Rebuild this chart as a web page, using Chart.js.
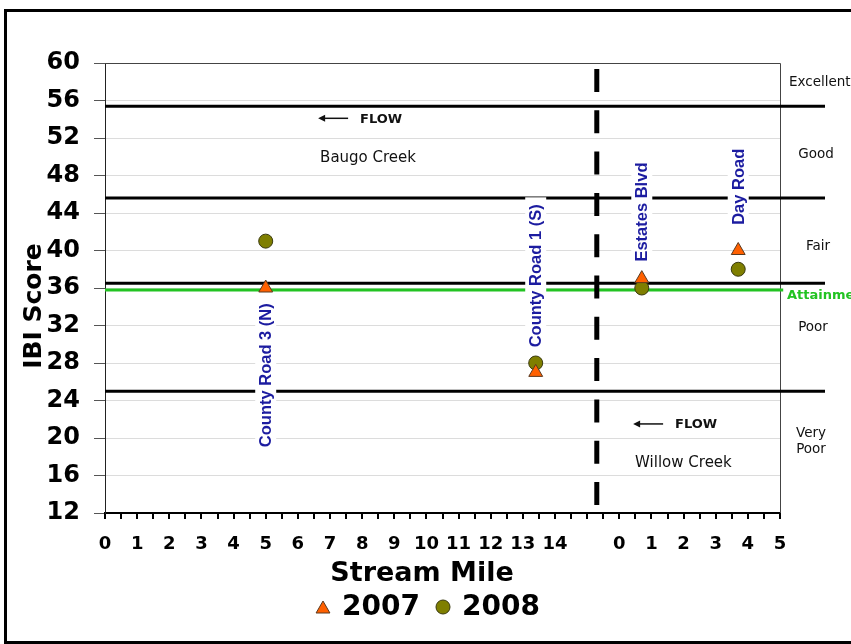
<!DOCTYPE html>
<html lang="en">
<head>
<meta charset="UTF-8" />
<title>IBI Score by Stream Mile</title>
<script src="https://cdn.jsdelivr.net/npm/chart.js"></script>
<style>
  html, body { margin: 0; padding: 0; background: #fff; }
  canvas { display: block; }
</style>
</head>
<body>
<canvas id="ibiChart" width="851" height="644"></canvas>
<script>
// sampling sites, mile is measured along each creek
const sites = ["County Road 3 (N)", "County Road 1 (S)", "Estates Blvd", "Day Road"];
const siteCreek = ["Baugo", "Baugo", "Willow", "Willow"];
const siteMile = [5.0, 13.4, 0.7, 3.7];
const ibi2007 = [36, 27, 37, 40];
const ibi2008 = [41, 28, 36, 38];

// IBI classes (boundaries between them) and the attainment score
const classNames = ["Excellent", "Good", "Fair", "Poor", "Very Poor"];
const classBreaks = [55.4, 45.6, 36.5, 25.0];
const attainment = 35.8;

// x axis: Baugo Creek miles, then Willow Creek miles after the divider
const baugoTicks = [0, 1, 2, 3, 4, 5, 6, 7, 8, 9, 10, 11, 12, 13, 14];
const willowTicks = [0, 1, 2, 3, 4, 5];
const willowStart = 16;   // Willow mile 0 on the shared axis
const dividerAt = 15.3;
const yTicksMin = 12, yTicksMax = 60, yStep = 4;

// where the rotated site names sit (IBI units)
const siteLabelY = [26.7, 37.3, 44.1, 46.8];

const axisX = (i) => siteCreek[i] === "Willow" ? siteMile[i] + willowStart : siteMile[i];
const xMax = willowStart + willowTicks[willowTicks.length - 1];

const FONT = '"DejaVu Sans", Verdana, sans-serif';
const ORANGE = "#ff6000";
const OLIVE = "#7f7f00";

const decor = {
  id: "decor",
  beforeDraw(chart) {
    const ctx = chart.ctx;
    ctx.save();
    ctx.fillStyle = "#fff";
    ctx.fillRect(0, 0, chart.width, chart.height);
    ctx.strokeStyle = "#000";
    ctx.lineWidth = 3;
    ctx.strokeRect(5.5, 10.5, 900, 632);
    ctx.restore();
  },
  beforeDatasetsDraw(chart) {
    const { ctx, chartArea: a } = chart;
    ctx.save();
    ctx.strokeStyle = "#444";
    ctx.lineWidth = 1;
    ctx.beginPath();
    ctx.moveTo(a.left, a.top + 0.5);
    ctx.lineTo(a.right + 0.5, a.top + 0.5);
    ctx.lineTo(a.right + 0.5, a.bottom);
    ctx.stroke();
    ctx.restore();
  },
  afterDatasetsDraw(chart) {
    const { ctx, chartArea: a } = chart;
    const xs = chart.scales.x, ys = chart.scales.y;
    ctx.save();

    // rotated site names with white boxes
    ctx.font = 'bold 16.5px "Liberation Sans", Arial, sans-serif';
    ctx.textAlign = "center";
    ctx.textBaseline = "middle";
    sites.forEach((name, i) => {
      const px = xs.getPixelForValue(axisX(i));
      const py = ys.getPixelForValue(siteLabelY[i]);
      const w = ctx.measureText(name).width;
      ctx.save();
      ctx.translate(px, py);
      ctx.rotate(-Math.PI / 2);
      ctx.fillStyle = "#fff";
      ctx.fillRect(-w / 2 - 7, -10.5, w + 14, 21);
      ctx.fillStyle = "#1c1ca0";
      ctx.fillText(name, 0, 1);
      ctx.restore();
    });

    // flow arrows and creek names
    const notes = [
      { creek: "Baugo Creek", x: 6.63, yFlow: 54.1, yName: 50.0 },
      { creek: "Willow Creek", x: 16.43, yFlow: 21.5, yName: 17.4 }
    ];
    notes.forEach((n) => {
      const x0 = xs.getPixelForValue(n.x);
      const yf = ys.getPixelForValue(n.yFlow);
      ctx.strokeStyle = "#111";
      ctx.fillStyle = "#111";
      ctx.lineWidth = 1.5;
      ctx.beginPath();
      ctx.moveTo(x0 + 4, yf);
      ctx.lineTo(x0 + 30, yf);
      ctx.stroke();
      ctx.beginPath();
      ctx.moveTo(x0, yf);
      ctx.lineTo(x0 + 7, yf - 3.5);
      ctx.lineTo(x0 + 7, yf + 3.5);
      ctx.closePath();
      ctx.fill();
      ctx.textAlign = "left";
      ctx.font = "bold 13px " + FONT;
      ctx.fillText("FLOW", x0 + 42, yf + 1);
      ctx.font = "15px " + FONT;
      ctx.fillText(n.creek, x0 + 2, ys.getPixelForValue(n.yName) + 1);
    });

    // class names on the right
    const cx = a.right + 35;
    ctx.fillStyle = "#111";
    ctx.font = "13.5px " + FONT;
    ctx.textAlign = "left";
    ctx.fillText(classNames[0], a.right + 9, ys.getPixelForValue(57.9));
    ctx.textAlign = "center";
    ctx.fillText(classNames[1], cx + 1, ys.getPixelForValue(50.2));
    ctx.fillText(classNames[2], cx + 3, ys.getPixelForValue(40.4));
    ctx.fillText(classNames[3], cx - 2, ys.getPixelForValue(31.8));
    const vp = classNames[4].split(" ");
    ctx.fillText(vp[0], cx - 4, ys.getPixelForValue(20.5));
    ctx.fillText(vp[1], cx - 4, ys.getPixelForValue(18.8));
    ctx.fillStyle = "#22c322";
    ctx.font = "bold 13px " + FONT;
    ctx.textAlign = "left";
    ctx.fillText("Attainment", a.right + 7, ys.getPixelForValue(attainment) + 6);

    // axis titles
    ctx.fillStyle = "#000";
    ctx.font = "bold 25px " + FONT;
    ctx.save();
    ctx.translate(34, 306);
    ctx.rotate(-Math.PI / 2);
    ctx.textAlign = "center";
    ctx.fillText("IBI Score", 0, 0);
    ctx.restore();
    ctx.font = "bold 27px " + FONT;
    ctx.textAlign = "center";
    ctx.fillText("Stream Mile", 422, 574);

    // legend
    const ds = chart.data.datasets;
    const helpers = Chart.helpers;
    ctx.font = "bold 28px " + FONT;
    ctx.textAlign = "left";
    [[0, 323, 342], [1, 443, 462]].forEach(([di, px, tx]) => {
      const d = ds[di];
      ctx.fillStyle = d.backgroundColor;
      ctx.strokeStyle = d.borderColor;
      ctx.lineWidth = 1;
      helpers.drawPoint(ctx, { pointStyle: d.pointStyle, radius: di === 0 ? 8 : 7, borderWidth: 1 }, px, di === 0 ? 609 : 607);
      ctx.fillStyle = "#000";
      ctx.fillText(d.label, tx, 608);
    });

    ctx.restore();
  }
};

const hLine = (y, x1) => [{ x: 0, y: y }, { x: x1, y: y }];

const datasets = [
  {
    label: "2007",
    data: sites.map((s, i) => ({ x: axisX(i), y: ibi2007[i] })),
    pointStyle: "triangle",
    pointRadius: 8,
    backgroundColor: ORANGE,
    borderColor: "#5a3a20",
    borderWidth: 1,
    showLine: false
  },
  {
    label: "2008",
    data: sites.map((s, i) => ({ x: axisX(i), y: ibi2008[i] })),
    pointStyle: "circle",
    pointRadius: 7,
    backgroundColor: OLIVE,
    borderColor: "#3a3a10",
    borderWidth: 1,
    showLine: false
  },
  {
    label: "divider",
    data: [{ x: dividerAt, y: 59.36 }, { x: dividerAt, y: yTicksMin }],
    showLine: true,
    pointRadius: 0,
    borderColor: "#000",
    borderWidth: 5,
    borderDash: [23, 18.3],
    borderCapStyle: "butt"
  },
  {
    label: "attainment",
    data: hLine(attainment, 21.1),
    showLine: true,
    pointRadius: 0,
    borderColor: "#22c322",
    borderWidth: 3,
    clip: false
  }
].concat(classBreaks.map((b) => ({
  label: "break",
  data: hLine(b, 22.4),
  showLine: true,
  pointRadius: 0,
  borderColor: "#000",
  borderWidth: 3,
  clip: false
})));

new Chart(document.getElementById("ibiChart").getContext("2d"), {
  type: "scatter",
  data: { datasets },
  options: {
    responsive: false,
    animation: false,
    layout: { padding: { left: 0, top: 63, right: 71, bottom: 0 } },
    plugins: { legend: { display: false }, tooltip: { enabled: false } },
    scales: {
      x: {
        type: "linear",
        min: 0,
        max: xMax,
        afterFit: (s) => { s.height = 131; },
        afterBuildTicks: (s) => {
          const t = [];
          for (let v = 0; v <= xMax; v += 0.5) t.push({ value: v });
          s.ticks = t;
        },
        ticks: {
          autoSkip: false,
          maxRotation: 0,
          padding: 15,
          color: "#000",
          font: { family: FONT, size: 18, weight: "bold" },
          callback: (v) => {
            if (baugoTicks.includes(v)) return String(v);
            if (willowTicks.includes(v - willowStart)) return String(v - willowStart);
            return "";
          }
        },
        grid: { drawOnChartArea: false, drawTicks: true, tickLength: 6, tickColor: "#000", lineWidth: 2 },
        border: { color: "#000", width: 2 }
      },
      y: {
        min: yTicksMin,
        max: yTicksMax,
        afterFit: (s) => { s.width = 105; },
        ticks: {
          stepSize: yStep,
          padding: 14,
          color: "#000",
          font: { family: FONT, size: 24, weight: "bold" }
        },
        grid: {
          color: (c) => c.tick && c.tick.value === yTicksMax ? "#444" : "#dcdcdc",
          tickLength: 11,
          tickColor: "#555"
        },
        border: { color: "#222", width: 1 }
      }
    }
  },
  plugins: [decor]
});
</script>
</body>
</html>
